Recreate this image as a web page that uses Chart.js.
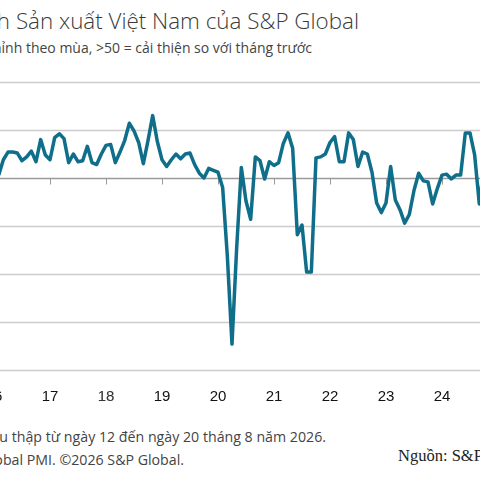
<!DOCTYPE html>
<html><head><meta charset="utf-8">
<script src="https://cdn.jsdelivr.net/npm/chart.js@4"></script>
<style>
html,body{margin:0;padding:0;width:480px;height:480px;overflow:hidden;background:#fff;position:relative}
.t{position:absolute;white-space:nowrap;font-family:"Open Sans",sans-serif}
#c{position:absolute;left:0;top:0}
</style></head><body>
<div class="t" style="right:121px;top:5px;font-size:22.4px;font-weight:300;color:#3a3a3a">Chỉ số PMI ngành Sản xuất Việt Nam của S&amp;P Global</div>
<div class="t" style="right:168px;top:38px;font-size:14px;color:#444">Đã điều chỉnh theo mùa, &gt;50 = cải thiện so với tháng trước</div>
<div class="t" style="right:154px;top:427px;font-size:14.2px;color:#444">Dữ liệu được thu thập từ ngày 12 đến ngày 20 tháng 8 năm 2026.</div>
<div class="t" style="right:296px;top:450px;font-size:14.2px;color:#444">Nguồn: S&amp;P Global PMI. ©2026 S&amp;P Global.</div>
<div class="t" style="left:398px;top:446px;font-size:16.5px;font-family:'Liberation Serif',serif;color:#222">Nguồn: S&amp;P Global.</div>
<canvas id="c" width="480" height="480"></canvas>
<script>
const startYear = 2016;
const pmi2016 = [51.5,50.3,51.9,52.7,52.7,52.6,51.8,52.2,52.8,51.7,54.0,52.4];
const pmi2017 = [51.9,54.2,54.6,54.1,51.6,52.5,51.7,51.8,53.3,51.6,51.4,52.5];
const pmi2018 = [53.4,53.5,51.6,52.7,53.9,55.7,54.9,53.7,51.5,53.9,56.5,53.8];
const pmi2019 = [51.9,51.2,51.9,52.5,52.0,52.5,52.6,51.4,50.5,50.0,51.0,50.8];
const pmi2020 = [50.6,49.0,41.9,32.7,42.7,51.1,47.6,45.7,52.2,51.8,49.9,51.7];
const pmi2021 = [51.3,51.6,53.6,54.7,53.1,44.1,45.1,40.2,40.2,52.1,52.2,52.5];
const pmi2022 = [53.7,54.3,51.7,51.7,54.7,54.0,51.2,52.7,52.5,50.6,47.4,46.4];
const pmi2023 = [47.4,51.2,47.7,46.7,45.3,46.2,48.7,50.5,49.7,49.6,47.3,48.9];
const pmi2024 = [50.3,50.4,49.9,50.3,50.3,54.7,54.7,52.4,47.3,51.2];
const yearLabels = ['16','17','18','19','20','21','22','23','24'];
const gridValues = [30,35,40,45,55,60];

const allYears = [pmi2016,pmi2017,pmi2018,pmi2019,pmi2020,pmi2021,pmi2022,pmi2023,pmi2024];
const points = [];
allYears.forEach((arr,yi)=>arr.forEach((v,m)=>points.push({x:startYear+yi+m/12,y:v})));

const deco = {
  id:'deco',
  beforeDatasetsDraw(ch){
    const {ctx} = ch, xs = ch.scales.x, ys = ch.scales.y;
    ctx.save();
    ctx.strokeStyle='#cccccc'; ctx.lineWidth=1.5;
    gridValues.forEach(v=>{const y=Math.round(ys.getPixelForValue(v))+0.5;ctx.beginPath();ctx.moveTo(0,y);ctx.lineTo(480,y);ctx.stroke();});
    const y50 = Math.round(ys.getPixelForValue(50))+0.5;
    ctx.strokeStyle='#9a9a9a';
    ctx.beginPath();ctx.moveTo(0,y50);ctx.lineTo(480,y50);ctx.stroke();
    ctx.lineWidth=1;
    for(let i=0;i<yearLabels.length;i++){
      const x=Math.round(xs.getPixelForValue(startYear+i))+0.5;
      ctx.beginPath();ctx.moveTo(x,y50);ctx.lineTo(x,y50+6);ctx.stroke();
    }
    ctx.restore();
  },
  afterDraw(ch){
    const {ctx} = ch, xs = ch.scales.x, ys = ch.scales.y;
    ctx.save();
    ctx.fillStyle='#111'; ctx.font='15px "Liberation Sans", Arial, sans-serif'; ctx.textAlign='center'; ctx.textBaseline='alphabetic';
    const yl = ys.getPixelForValue(30)+31;
    for(let i=0;i<yearLabels.length;i++){
      if(i===2) continue;
      ctx.fillText(yearLabels[i],xs.getPixelForValue(startYear+i),yl);
    }
    ctx.globalAlpha=0.6;
    ctx.fillText(yearLabels[2],xs.getPixelForValue(startYear+2),yl);
    ctx.fillText(yearLabels[2],xs.getPixelForValue(startYear+2),yl);
    ctx.restore();
  }
};

new Chart(document.getElementById('c'),{
  type:'line',
  data:{datasets:[{data:points,borderColor:'#0f6e8a',borderWidth:3.5,pointRadius:0,tension:0,fill:false,borderJoinStyle:'round'}]},
  options:{
    responsive:false,animation:false,
    layout:{padding:{top:82,bottom:110,left:0,right:0}},
    plugins:{legend:{display:false},tooltip:{enabled:false}},
    scales:{
      x:{type:'linear',min:2016.107,max:2024.679,display:false},
      y:{min:30,max:60,display:false}
    }
  },
  plugins:[deco]
});
</script>
</body></html>
